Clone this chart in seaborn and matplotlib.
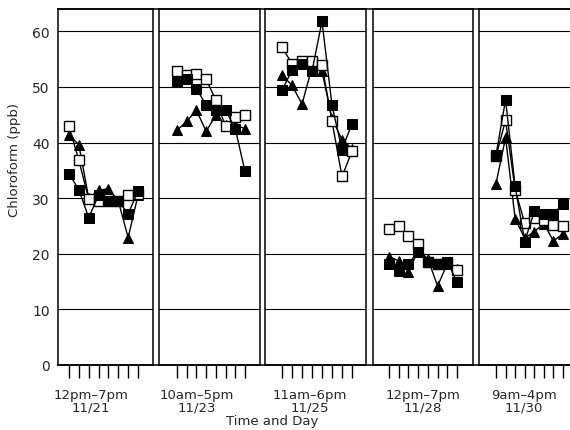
import matplotlib
matplotlib.use("Agg")
import matplotlib.pyplot as plt
from matplotlib.lines import Line2D
import seaborn as sns
import pandas as pd
import numpy as np

# ---------------- data ----------------
hours = [0, 1, 2, 3, 4, 5, 6, 7]
range_labels = ["12pm\u20137pm", "10am\u20135pm", "11am\u20136pm", "12pm\u20137pm", "9am\u20134pm"]
day_labels = ["11/21", "11/23", "11/25", "11/28", "11/30"]

filled_sq = [
    [34.4, 31.5, 26.5, 30.5, 29.5, 29.5, 27.2, 31.2],
    [51.0, 51.5, 49.7, 46.7, 45.8, 45.8, 42.5, 34.8],
    [49.4, 53.0, 54.2, 52.8, 61.8, 46.7, 38.7, 43.4],
    [18.2, 16.9, 18.2, 20.4, 18.6, 18.2, 18.6, 14.9],
    [37.7, 47.7, 32.1, 22.2, 27.6, 27.2, 27.2, 29.0],
]
open_sq = [
    [42.9, 36.8, 29.8, 29.5, 29.5, 29.5, 30.5, 30.8],
    [52.8, 52.2, 52.4, 51.4, 47.6, 42.9, 44.5, 44.9],
    [57.1, 54.2, 54.6, 54.6, 53.9, 43.8, 33.9, 38.4],
    [24.5, 24.9, 23.2, 21.8, 18.6, 18.2, 18.4, 17.0],
    [37.5, 44.0, 31.5, 25.5, 26.5, 26.0, 25.2, 25.0],
]
triangles = [
    [41.3, 39.6, 30.0, 31.4, 31.7, 29.5, 22.9, 30.5],
    [42.2, 43.8, 45.8, 42.0, 44.9, 43.1, 43.1, 42.5],
    [52.1, 50.3, 46.9, 53.5, 52.8, 44.3, 40.5, 38.9],
    [19.5, 18.7, 16.8, 20.5, 19.1, 14.2, 18.2, 17.3],
    [32.6, 40.9, 26.3, 22.8, 24.0, 25.4, 22.3, 23.6],
]

# ---------------- style ----------------
sns.set_style("white")
plt.rcParams['font.family'] = ['DejaVu Sans']

W, H = 570, 431
fig = plt.figure(figsize=(W / 100, H / 100), dpi=100)

y_bot_px, y_top_px = 366, 10
# panel pixel extents (left, right) and first/last tick pixel
panels_px = [(58, 153), (159, 260), (265, 366), (373, 473), (479, 585)]
ticks_px = [(69, 138), (177, 245), (282, 352), (389, 457), (496, 563)]
label_px = [91, 197, 310, 423, 524]

for i in range(5):
    l, r = panels_px[i]
    t0, t1 = ticks_px[i]
    d = (t1 - t0) / 7.0
    ax = fig.add_axes([l / W, (H - y_bot_px) / H, (r - l) / W, (y_bot_px - y_top_px) / H])
    ax.set_xlim((l - t0) / d, (r - t0) / d)
    ax.set_ylim(0, 64)

    df_t = pd.DataFrame({"hour": hours, "value": triangles[i]})
    df_o = pd.DataFrame({"hour": hours, "value": open_sq[i]})
    df_f = pd.DataFrame({"hour": hours, "value": filled_sq[i]})
    sns.lineplot(data=df_t, x="hour", y="value", ax=ax, color="black", lw=1.0,
                 marker="^", markersize=7.5, markerfacecolor="black",
                 markeredgecolor="black", legend=False, zorder=3)
    sns.lineplot(data=df_o, x="hour", y="value", ax=ax, color="black", lw=1.0,
                 marker="s", markersize=6.5, markerfacecolor="white",
                 markeredgecolor="black", markeredgewidth=1.0, legend=False, zorder=4)
    sns.lineplot(data=df_f, x="hour", y="value", ax=ax, color="black", lw=1.0,
                 marker="s", markersize=6.8, markerfacecolor="black",
                 markeredgecolor="black", legend=False, zorder=5)

    ax.set_xlabel("")
    ax.set_ylabel("")
    ax.set_yticks([0, 10, 20, 30, 40, 50, 60])
    ax.yaxis.grid(True, color="black", lw=0.8)
    ax.set_axisbelow(True)
    ax.tick_params(axis="y", length=0, labelleft=(i == 0), labelsize=10, pad=6)
    ax.set_xticks(hours)
    ax.set_xticklabels([])
    ax.tick_params(axis="x", direction="out", length=9, width=1.0, color="black", bottom=True)
    for s in ax.spines.values():
        s.set_color("black")
        s.set_linewidth(1.1)

    lab_x = (label_px[i] - t0) / d
    ax.text(lab_x, -0.066, range_labels[i], transform=ax.get_xaxis_transform(),
            ha="center", va="top", fontsize=9.5)
    ax.text(lab_x, -0.099, day_labels[i], transform=ax.get_xaxis_transform(),
            ha="center", va="top", fontsize=9.5)

# continuous top and bottom frame lines across the gaps
for ypx in (y_bot_px, y_top_px):
    fig.add_artist(Line2D([58 / W, 1.0], [(H - ypx) / H] * 2,
                          transform=fig.transFigure, color="black", lw=1.1))

fig.text(15 / W, 1 - 160 / H, "Chloroform (ppb)", rotation=90, ha="center",
         va="center", fontsize=9.5)
fig.text(272 / W, 3 / H, "Time and Day", ha="center", va="bottom", fontsize=9.5)

fig.savefig("out.png", dpi=100)
